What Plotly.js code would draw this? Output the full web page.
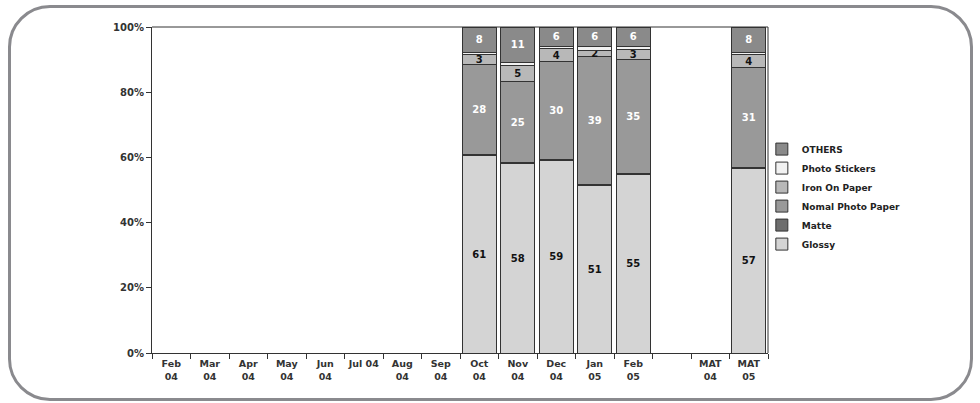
<!DOCTYPE html>
<html>
<head>
<meta charset="utf-8">
<script src="https://cdn.plot.ly/plotly-3.0.1.min.js"></script>
<style>
  html, body { margin: 0; padding: 0; background: #fff; }
  #wrap { position: relative; width: 980px; height: 403px; }
  #chart { width: 980px; height: 403px; }
  #frame { position: absolute; left: 8px; top: 5px; width: 959px; height: 390px;
           border: 3px solid #8a8a8e; border-radius: 42px; pointer-events: none; }
</style>
</head>
<body>
<div id="wrap">
  <div id="chart"></div>
  <div id="frame"></div>
</div>
<script>
const categories = ["Feb<br>04","Mar<br>04","Apr<br>04","May<br>04","Jun<br>04","Jul 04","Aug<br>04","Sep<br>04","Oct<br>04","Nov<br>04","Dec<br>04","Jan<br>05","Feb<br>05"," ","MAT<br>04","MAT<br>05"];
const glossy        = [null,null,null,null,null,null,null,null,61,58,59,51,55,null,null,57];
const matte         = [null,null,null,null,null,null,null,null,0.3,0.3,0.3,0.3,0.3,null,null,0.3];
const nomalPhoto    = [null,null,null,null,null,null,null,null,28,25,30,39,35,null,null,31];
const ironOnPaper   = [null,null,null,null,null,null,null,null,3,5,4,2,3,null,null,4];
const photoStickers = [null,null,null,null,null,null,null,null,0.5,0.7,0.6,1.1,1,null,null,0.6];
const others        = [null,null,null,null,null,null,null,null,8,11,6,6,6,null,null,8];

const fontFam = "DejaVu Sans, Verdana, sans-serif";
function series(name, vals, color, showText, textColor) {
  return {
    type: 'bar', name: name, x: categories, y: vals,
    marker: { color: color, line: { color: '#333333', width: 1 } },
    text: showText ? vals.map(v => v == null ? '' : String(v)) : undefined,
    texttemplate: showText ? '%{text}' : undefined,
    textposition: showText ? 'inside' : 'none',
    insidetextanchor: 'middle',
    textangle: 0,
    constraintext: 'none',
    textfont: { family: fontFam, size: 10, color: textColor, weight: 'bold' },
    hoverinfo: 'name+y'
  };
}
const data = [
  series('Glossy', glossy, '#d4d4d4', true, '#111111'),
  series('Matte', matte, '#6e6e6e', false),
  series('Nomal Photo Paper', nomalPhoto, '#999999', true, '#ffffff'),
  series('Iron On Paper', ironOnPaper, '#b8b8b8', true, '#111111'),
  series('Photo Stickers', photoStickers, '#f2f2f2', false),
  series('OTHERS', others, '#8a8a8a', true, '#ffffff')
];
const layout = {
  width: 980, height: 403,
  margin: { l: 152, r: 212, t: 27, b: 50 },
  paper_bgcolor: '#ffffff', plot_bgcolor: '#ffffff',
  barmode: 'stack', barnorm: 'percent', bargap: 0.12,
  font: { family: fontFam, size: 10, color: '#222' },
  xaxis: {
    type: 'category', tickson: 'boundaries', ticks: 'outside', ticklen: 5,
    tickcolor: '#333', showline: true, linecolor: '#333', linewidth: 1,
    mirror: false, showgrid: false, fixedrange: true, tickangle: 0, ticklabelstandoff: 2,
    tickfont: { family: fontFam, size: 9.5, color: '#333', weight: 'bold' }
  },
  yaxis: {
    range: [0, 100], tickvals: [0,20,40,60,80,100], ticktext: ['0%','20%','40%','60%','80%','100%'],
    ticks: 'outside', ticklen: 5, tickcolor: '#333', showline: true, linecolor: '#333', linewidth: 1,
    showgrid: false, zeroline: false, fixedrange: true,
    tickfont: { family: fontFam, size: 10, color: '#333', weight: 'bold' }
  },
  shapes: [
    { type: 'line', xref: 'paper', yref: 'paper', x0: 0, x1: 1, y0: 1, y1: 1, line: { color: '#333', width: 1 } },
    { type: 'line', xref: 'paper', yref: 'paper', x0: 1, x1: 1, y0: 0, y1: 1, line: { color: '#333', width: 1 } }
  ],
  legend: {
    x: 0.99, y: 0.67, xanchor: 'left', yanchor: 'top', traceorder: 'reversed',
    font: { family: fontFam, size: 9, color: '#222', weight: 'bold' },
    bgcolor: 'rgba(0,0,0,0)', itemwidth: 30, tracegroupgap: 0
  },
  showlegend: true
};
Plotly.newPlot('chart', data, layout, { displayModeBar: false, staticPlot: true });
</script>
</body>
</html>
